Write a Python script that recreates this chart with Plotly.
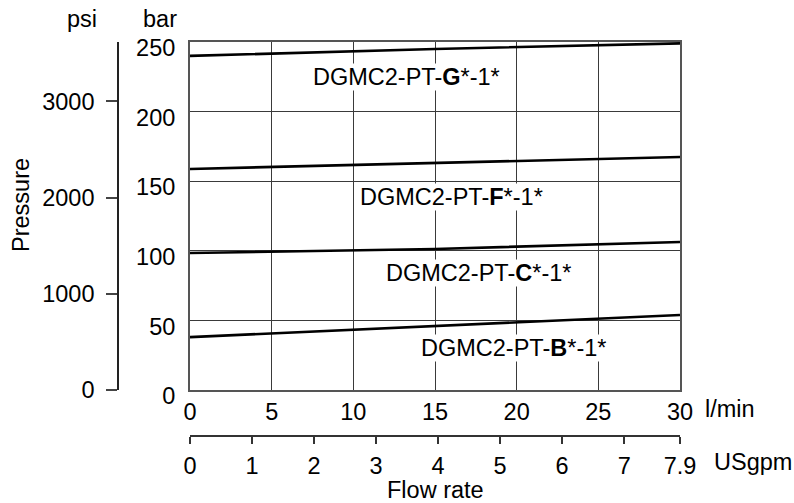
import plotly.graph_objects as go

# ---- data ----
flow_lpm = [0, 15, 30]
series_names = ["G", "F", "C", "B"]
pressure_G = [240, 245, 249]
pressure_F = [158.8, 163, 167.4]
pressure_C = [98.4, 101.3, 106.3]
pressure_B = [38, 46, 53.9]
bar_ticks = [0, 50, 100, 150, 200, 250]
psi_ticks = [0, 1000, 2000, 3000]
lpm_ticks = [0, 5, 10, 15, 20, 25, 30]
gpm_ticks = [0, 1, 2, 3, 4, 5, 6, 7, 7.9]
gpm_labels = ["0", "1", "2", "3", "4", "5", "6", "7", "7.9"]

W, H = 794, 503
FONT = "Liberation Sans, Arial, sans-serif"
FS = 23.5

def px(x):
    return x / W

def py(y):
    return (H - y) / H

fig = go.Figure()
for name, vals in zip(series_names, [pressure_G, pressure_F, pressure_C, pressure_B]):
    fig.add_trace(go.Scatter(x=flow_lpm, y=vals, mode="lines",
                             line=dict(color="black", width=2.6),
                             name=name, showlegend=False, hoverinfo="skip",
                             xaxis="x", yaxis="y", cliponaxis=False))

# invisible helper trace so the secondary (USgpm / psi) axes render
fig.add_trace(go.Scatter(x=[None], y=[None], xaxis="x2", yaxis="y2",
                         showlegend=False, hoverinfo="skip", mode="lines"))

grid_col = "#3a3a3a"
fig.update_layout(
    width=W, height=H,
    margin=dict(l=0, r=0, t=0, b=0, pad=0, autoexpand=False),
    paper_bgcolor="white", plot_bgcolor="white",
    font=dict(family=FONT, size=FS, color="black"),
    xaxis=dict(domain=[px(190), px(680)], range=[0, 30], tickvals=lpm_ticks,
               showgrid=True, gridcolor=grid_col, gridwidth=1.4,
               showline=True, linecolor="#555", linewidth=2, mirror=True,
               ticks="", zeroline=False, ticklabelstandoff=0, automargin=False,
               tickfont=dict(size=FS), anchor="y"),
    yaxis=dict(domain=[py(390), py(42)], range=[0, 250], tickvals=bar_ticks,
               showgrid=True, gridcolor=grid_col, gridwidth=1.4,
               showline=True, linecolor="#555", linewidth=2, mirror=True,
               ticks="", zeroline=False, ticklabelstandoff=8, ticklabelshift=6,
               automargin=False, tickfont=dict(size=FS), anchor="x"),
    xaxis2=dict(domain=[px(187), px(677)], range=[0, 7.9], tickvals=gpm_ticks,
                ticktext=gpm_labels, anchor="free", position=py(436),
                overlaying="x", side="bottom", automargin=False,
                showgrid=False, zeroline=False, showline=True,
                linecolor="#333", linewidth=1.6, ticks="outside", ticklen=7,
                tickcolor="#333", tickwidth=1.6, ticklabelstandoff=2,
                tickfont=dict(size=FS)),
    yaxis2=dict(domain=[py(396), py(46)], range=[0, 3616], tickvals=psi_ticks,
                anchor="free", position=px(118), side="left",
                overlaying="y", automargin=False,
                showgrid=False, zeroline=False, showline=True,
                linecolor="#222", linewidth=1.6, ticks="outside", ticklen=11,
                tickcolor="#444", tickwidth=1.6, ticklabelstandoff=7,
                tickfont=dict(size=FS)),
)

ann = []
def add_text(text, x, y, xanchor="center", bg=None, angle=0):
    d = dict(text=text, x=px(x), y=py(y), xref="paper", yref="paper",
             xanchor=xanchor, yanchor="middle", showarrow=False,
             font=dict(family=FONT, size=FS, color="black"), textangle=angle)
    if bg:
        d.update(bgcolor=bg, borderpad=0)
    ann.append(d)

add_text("psi", 82, 19)
add_text("bar", 160, 19)
add_text("Pressure", 21, 205, angle=-90)
add_text("l/min", 703, 409, xanchor="left")
add_text("USgpm", 712, 462, xanchor="left")
add_text("Flow rate", 435, 490)

label_pos = {"G": (406, 77), "F": (452, 197), "C": (478, 273), "B": (513, 348)}
for name in series_names:
    x, y = label_pos[name]
    add_text(f"DGMC2-PT-<b>{name}</b>*-1*", x, y, bg="white")

fig.update_layout(annotations=ann)
fig.write_html("out.html", config={"displayModeBar": False},
               post_script="document.body.style.margin='0';document.body.style.overflow='hidden';")
